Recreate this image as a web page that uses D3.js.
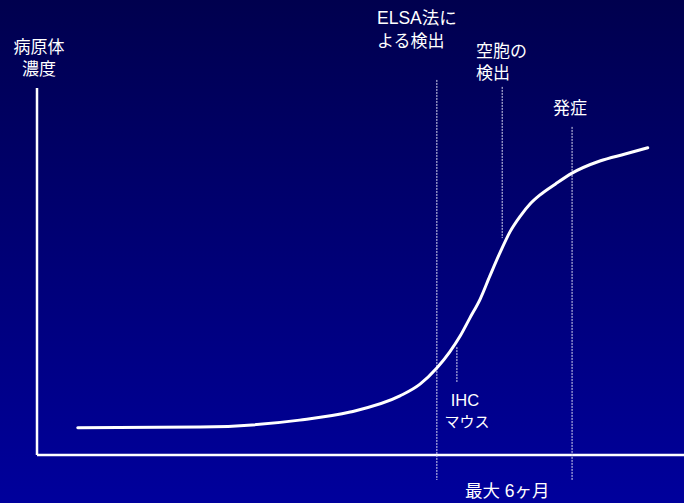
<!DOCTYPE html>
<html>
<head>
<meta charset="utf-8">
<script src="https://cdn.jsdelivr.net/npm/d3@7"></script>
<style>
  html, body { margin: 0; padding: 0; }
  svg text { fill: #ffffff; font-family: "Liberation Sans", "Noto Sans CJK JP", sans-serif; }
</style>
</head>
<body>
<div id="chart"></div>
<script>
// Set width and height
var svgWidth = 684;
var svgHeight = 503;

// Curve values: time (arbitrary units) and pathogen concentration (arbitrary units)
var timeValues = [6.3, 25.2, 40.6, 48.4, 56.1, 59.2, 61.8, 63.8, 65.4, 66.9, 68.5, 70.0, 71.6, 73.1, 74.7, 76.2, 77.7, 80.1, 82.7, 87.0, 90.9, 94.4];
var concValues = [7.4, 7.6, 9.5, 11.7, 16.1, 19.3, 23.7, 28.1, 32.4, 37.3, 42.5, 48.8, 55.3, 60.8, 65.1, 68.4, 70.8, 73.8, 76.8, 80.1, 82.0, 83.7];

// Marker lines: time position and vertical extent
var markerNames = ["ELSA", "vacuole", "onset", "IHC"];
var markerTimes = [61.8, 71.9, 82.7, 64.9];
var markerTops = [102.2, 100.3, 89.4, 29.4];
var markerBottoms = [-6.8, 59.1, -6.8, 19.9];

// Make the chart
var svg = d3.select("#chart")
    .append("svg")
    .attr("width", svgWidth)
    .attr("height", svgHeight);

// Background gradient
var defs = svg.append("defs");
var grad = defs.append("linearGradient")
    .attr("id", "bg")
    .attr("x1", 0).attr("y1", 0)
    .attr("x2", 0).attr("y2", 1);
grad.append("stop").attr("offset", "0%").attr("stop-color", "#00004e");
grad.append("stop").attr("offset", "100%").attr("stop-color", "#00009c");
svg.append("rect")
    .attr("width", svgWidth)
    .attr("height", svgHeight)
    .attr("fill", "url(#bg)");

// Scales
var xScale = d3.scaleLinear().domain([0, 100]).range([37, 684]);
var yScale = d3.scaleLinear().domain([0, 100]).range([455, 88]);

// Axes drawn as plain lines
svg.append("line")
    .attr("x1", xScale(0)).attr("x2", xScale(0))
    .attr("y1", yScale(100)).attr("y2", yScale(0))
    .attr("stroke", "#ffffff").attr("stroke-width", 2.5);
svg.append("line")
    .attr("x1", xScale(0)).attr("x2", xScale(100))
    .attr("y1", yScale(0)).attr("y2", yScale(0))
    .attr("stroke", "#ffffff").attr("stroke-width", 2.5);

// Dotted marker lines
var markers = markerNames.map(function(n, i) {
    return { name: n, t: markerTimes[i], top: markerTops[i], bottom: markerBottoms[i] };
});
svg.selectAll(".marker")
    .data(markers)
    .enter()
    .append("line")
    .attr("class", "marker")
    .attr("x1", d => xScale(d.t)).attr("x2", d => xScale(d.t))
    .attr("y1", d => yScale(d.top)).attr("y2", d => yScale(d.bottom))
    .attr("stroke", "#d8d8f0")
    .attr("stroke-width", 1)
    .attr("stroke-dasharray", "2,1");

// Curve
var points = timeValues.map(function(t, i) { return [t, concValues[i]]; });
var line = d3.line()
    .x(d => xScale(d[0]))
    .y(d => yScale(d[1]))
    .curve(d3.curveMonotoneX);
svg.append("path")
    .datum(points)
    .attr("d", line)
    .attr("fill", "none")
    .attr("stroke", "#ffffff")
    .attr("stroke-width", 3)
    .attr("stroke-linecap", "round");

// Labels
function label(txt, x, y, anchor, size) {
    svg.append("text")
        .attr("x", x)
        .attr("y", y)
        .attr("text-anchor", anchor)
        .attr("font-size", size + "px")
        .text(txt);
}
label("病原体", 39, 53, "middle", 17);
label("濃度", 39, 75, "middle", 17);
label("ELSA法に", 377, 24, "start", 17.5);
label("よる検出", 377, 47, "start", 17);
label("空胞の", 476, 57, "start", 17);
label("検出", 476, 79, "start", 17);
label("発症", 553, 114, "start", 17);
label("IHC", 465, 406, "middle", 16.5);
label("マウス", 467, 427, "middle", 15);
label("最大 6ヶ月", 465, 497, "start", 17.5);
</script>
</body>
</html>
